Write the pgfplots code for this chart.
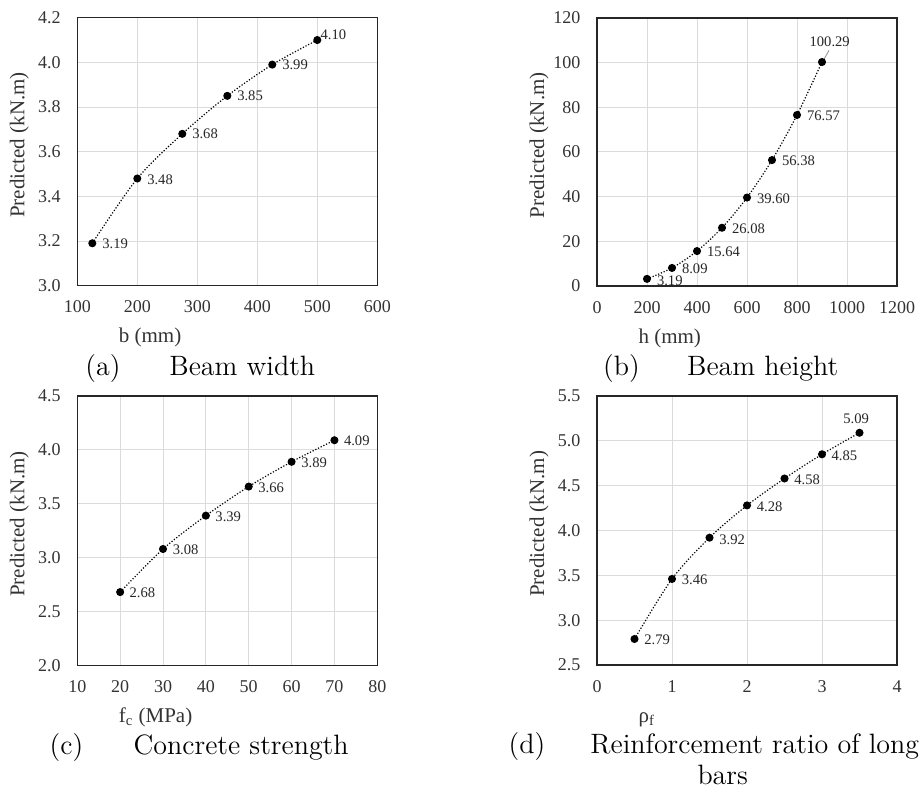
\documentclass[border=0pt]{standalone}
\usepackage{fontspec}
\newfontfamily\tnr{Liberation Serif}
\usepackage{pgfplots}
\pgfplotsset{compat=1.18}
\usepackage{pgfplotstable}

\pgfplotstableread{
x y lab dx dy
125 3.19 3.19 4.7 -0.4
200 3.48 3.48 4.7 -0.4
275 3.68 3.68 4.7 -0.1
350 3.85 3.85 4.7 -0.1
425 3.99 3.99 4.7 -0.1
500 4.10 4.10 1.35 2.85
}\dataA

\pgfplotstableread{
x y lab dx dy
200 3.19 3.19 4.7 -0.85
300 8.09 8.09 4.7 -0.4
400 15.64 15.64 4.7 -0.5
500 26.08 26.08 4.7 -0.4
600 39.60 39.60 4.7 -0.4
700 56.38 56.38 4.7 -0.5
800 76.57 76.57 4.7 -0.4
900 100.29 100.29 -6.5 10.15
}\dataB

\pgfplotstableread{
x y lab dx dy
20 2.68 2.68 4.4 -0.4
30 3.08 3.08 4.6 -0.5
40 3.39 3.39 4.5 -0.4
50 3.66 3.66 4.5 -0.5
60 3.89 3.89 4.6 -0.5
70 4.09 4.09 4.5 -0.4
}\dataC

\pgfplotstableread{
x y lab dx dy
0.5 2.79 2.79 4.65 -0.4
1.0 3.46 3.46 4.65 -0.6
1.5 3.92 3.92 4.65 -0.8
2.0 4.28 4.28 4.65 -0.6
2.5 4.58 4.58 4.65 -0.6
3.0 4.85 4.85 4.5 -0.5
3.5 5.09 5.09 -8.35 7.15
}\dataD

\pgfplotsset{
  panel/.style={
    scale only axis, width=150pt, height=134pt,
    axis line style={draw=black!85, line width=0.7pt},
    grid=major, grid style={draw=black!14, line width=0.5pt},
    major tick length=0pt,
    scaled ticks=false,
    /pgf/number format/1000 sep={},
    /pgf/number format/assume math mode=true,
    tick label style={font=\tnr\fontsize{9}{10}\selectfont, text=black!80},
    xticklabel style={anchor=base, inner sep=0pt, yshift=-13.6pt},
    yticklabel style={anchor=east, inner sep=0pt, xshift=-8.15pt},
    every axis y label/.style={at={(axis description cs:-0.193,0.525)}, rotate=90, anchor=center,
      font=\tnr\fontsize{10.5}{12}\selectfont, text=black!80},
    every axis x label/.style={at={(axis description cs:0.115,-0.213)}, anchor=base west,
      font=\tnr\fontsize{10.5}{12}\selectfont, text=black!80},
    ylabel={Predicted (kN.m)},
  },
  onedec/.style={yticklabel style={/pgf/number format/.cd, fixed, fixed zerofill, precision=1}},
  series/.style={black, line width=0.6pt, dash pattern=on 0.6pt off 0.9pt, smooth,
    mark=*, mark size=1.7pt, mark options={solid, fill=black},
    point meta=explicit symbolic, nodes near coords={\pgfplotspointmeta},
    visualization depends on={\thisrow{dx}\as\mydx},
    visualization depends on={\thisrow{dy}\as\mydy},
    every node near coord/.append style={anchor=west, inner sep=0pt, xshift=\mydx pt, yshift=\mydy pt,
      font=\tnr\fontsize{7.3}{8}\selectfont, text=black!85}},
}

\begin{document}
\begin{tikzpicture}
\useasboundingbox (0pt,0pt) rectangle (459.5pt,-395pt);

% (a)
\begin{axis}[panel, onedec, at={(38.65pt,-142.85pt)}, anchor=south west,
  xmin=100, xmax=600, ymin=3, ymax=4.2,
  xtick={100,200,300,400,500,600}, ytick={3.0,3.2,3.4,3.6,3.8,4.0,4.2},
  xlabel={b (mm)}]
\addplot[series] table[x=x, y=y, meta=lab] {\dataA};
\end{axis}

% (b)
\begin{axis}[panel, at={(298.5pt,-143pt)}, anchor=south west,
  xmin=0, xmax=1200, ymin=0, ymax=120,
  xtick={0,200,400,600,800,1000,1200}, ytick={0,20,40,60,80,100,120},
  xlabel={h (mm)}]
\addplot[series] table[x=x, y=y, meta=lab] {\dataB};
\draw[black!45, line width=0.4pt] (axis cs:908,101.5) -- (axis cs:928,105.5);
\end{axis}

% (c)
\begin{axis}[panel, onedec, height=134.6pt, at={(38.65pt,-332.65pt)}, anchor=south west,
  xmin=10, xmax=80, ymin=2, ymax=4.5,
  xtick={10,20,30,40,50,60,70,80}, ytick={2.0,2.5,3.0,3.5,4.0,4.5},
  xlabel={f\textsubscript{c} (MPa)}]
\addplot[series] table[x=x, y=y, meta=lab] {\dataC};
\end{axis}

% (d)
\begin{axis}[panel, onedec, height=134.5pt, at={(298.5pt,-332.5pt)}, anchor=south west,
  xmin=0, xmax=4, ymin=2.5, ymax=5.5,
  xtick={0,1,2,3,4}, ytick={2.5,3.0,3.5,4.0,4.5,5.0,5.5},
  xlabel={ρ\textsubscript{f}}]
\addplot[series] table[x=x, y=y, meta=lab] {\dataD};
\end{axis}

% captions
\begin{scope}[every node/.style={inner sep=0pt, font=\fontsize{14}{16.8}\selectfont}]
\node[anchor=base west] at (42.5pt,-188pt) {(a)};
\node[anchor=base west] at (84.5pt,-188pt) {Beam width};
\node[anchor=base west] at (301.35pt,-188pt) {(b)};
\node[anchor=base west] at (343.35pt,-188pt) {Beam height};
\node[anchor=base west] at (24.65pt,-377pt) {(c)};
\node[anchor=base west] at (66.65pt,-377pt) {Concrete strength};
\node[anchor=base west] at (254.15pt,-376.5pt) {(d)};
\node[anchor=base west] at (295pt,-376.5pt) {Reinforcement ratio of longitudinal};
\node[anchor=base] at (361.35pt,-392pt) {bars};
\end{scope}
\end{tikzpicture}
\end{document}
